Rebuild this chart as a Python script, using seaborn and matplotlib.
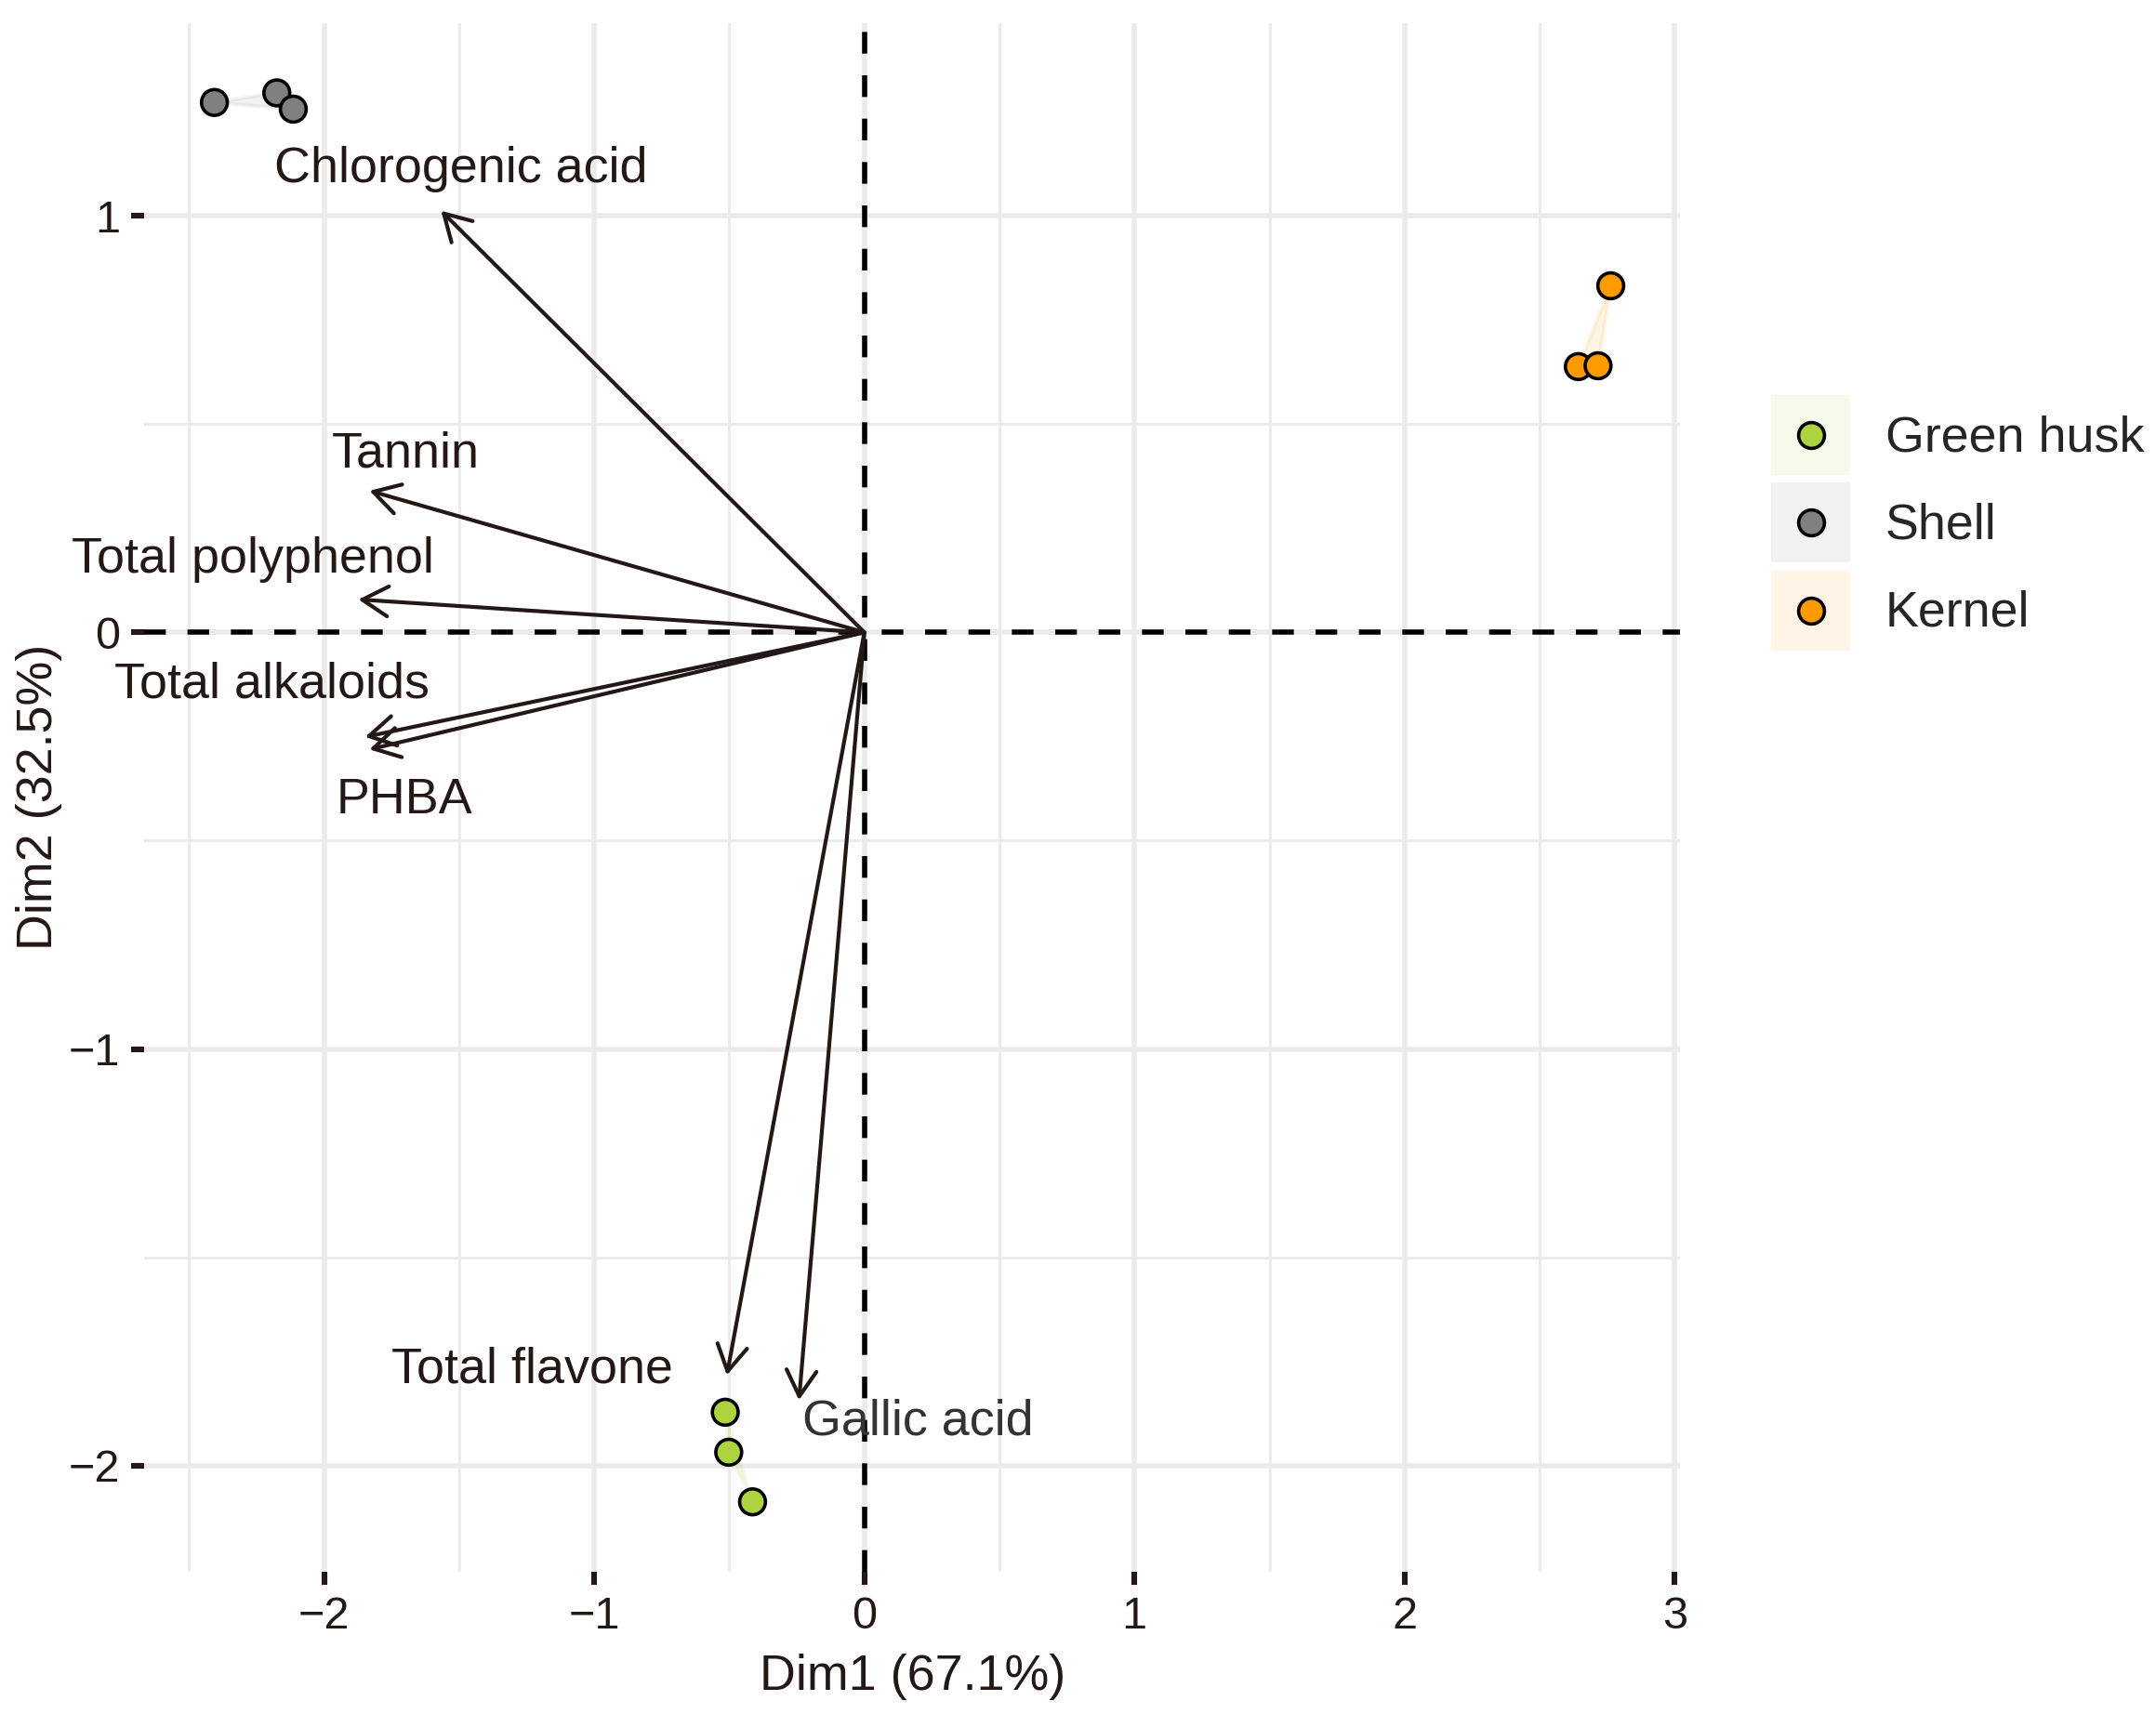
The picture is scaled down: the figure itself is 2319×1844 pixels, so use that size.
import pandas as pd
import seaborn as sns
import matplotlib.pyplot as plt
from matplotlib.lines import Line2D
from matplotlib.patches import Patch
from matplotlib.legend_handler import HandlerTuple, HandlerLine2D

# samples (PCA individuals)
groups = ['Green husk', 'Shell', 'Kernel']
sample_group = ['Green husk'] * 3 + ['Shell'] * 3 + ['Kernel'] * 3
dim1 = [-0.515, -0.502, -0.414, -2.406, -2.175, -2.114, 2.763, 2.643, 2.716]
dim2 = [-1.872, -1.968, -2.087, 1.272, 1.295, 1.256, 0.832, 0.638, 0.640]

# variables (arrow tips)
variables = ['Chlorogenic acid', 'Tannin', 'Total polyphenol', 'Total alkaloids',
             'PHBA', 'Total flavone', 'Gallic acid']
var_dim1 = [-1.567, -1.832, -1.873, -1.848, -1.832, -0.509, -0.242]
var_dim2 = [1.012, 0.340, 0.079, -0.251, -0.281, -1.783, -1.843]
# repelled label positions
lab_dim1 = [-1.495, -1.700, -2.264, -2.193, -1.703, -1.228, 0.198]
lab_dim2 = [1.111, 0.429, 0.175, -0.125, -0.403, -1.769, -1.894]

xlabel = 'Dim1 (67.1%)'
ylabel = 'Dim2 (32.5%)'

palette = {'Green husk': '#ADD33F', 'Shell': '#808080', 'Kernel': '#FF9A00'}
ink = '#231815'


class CenteredMarker(HandlerLine2D):
    # put the legend point in the middle of the key box
    def create_artists(self, legend, orig_handle, xdescent, ydescent, width, height,
                       fontsize, trans):
        return super().create_artists(legend, orig_handle, xdescent, ydescent, width,
                                      height - ydescent, fontsize, trans)


df = pd.DataFrame({'Dim1': dim1, 'Dim2': dim2, 'group': sample_group})

sns.set_theme(style='white')
plt.rcParams['font.family'] = ['Liberation Sans', 'DejaVu Sans']

fig = plt.figure(figsize=(2319 / 200, 1844 / 200), dpi=200)
ax = fig.add_axes([0.067, 0.0832, 0.7123, 0.9032])

ax.set_xlim(-2.665, 3.02)
ax.set_ylim(-2.254, 1.462)

# grid
ax.set_xticks([-2, -1, 0, 1, 2, 3])
ax.set_yticks([-2, -1, 0, 1])
ax.set_xticks([-2.5, -1.5, -0.5, 0.5, 1.5, 2.5], minor=True)
ax.set_yticks([-1.5, -0.5, 0.5], minor=True)
ax.set_xticklabels(['\u22122', '\u22121', '0', '1', '2', '3'])
ax.set_yticklabels(['\u22122', '\u22121', '0', '1'])
ax.grid(which='major', color='#EBEBEB', lw=2.0)
ax.grid(which='minor', color='#EBEBEB', lw=1.1)
ax.set_axisbelow(True)
for s in ax.spines.values():
    s.set_visible(False)
ax.tick_params(which='major', length=5, width=2.2, color=ink, pad=4.5,
               labelsize=17.5, labelcolor=ink, bottom=True, left=True)
ax.tick_params(which='minor', length=0)

# convex hulls
for g in groups:
    sub = df[df['group'] == g]
    ax.fill(sub['Dim1'], sub['Dim2'], facecolor=palette[g], edgecolor=palette[g],
            alpha=0.1, lw=1.5, zorder=1)

# reference lines
ax.axhline(0, color='black', lw=2.0, ls=(0, (4.2, 4.2)), zorder=2)
ax.axvline(0, color='black', lw=2.0, ls=(0, (4.2, 4.2)), zorder=2)

# variable arrows
for i, v in enumerate(variables):
    ax.annotate('', xy=(var_dim1[i], var_dim2[i]), xytext=(0, 0),
                arrowprops=dict(arrowstyle='->,head_length=1.0,head_width=0.58',
                                mutation_scale=10, lw=1.5, color=ink,
                                shrinkA=0, shrinkB=0), zorder=3)
    ax.text(lab_dim1[i], lab_dim2[i], v, ha='center', va='center', fontsize=19.4,
            color='#333333' if v == 'Gallic acid' else ink, zorder=4)

sns.scatterplot(data=df, x='Dim1', y='Dim2', hue='group', palette=palette,
                hue_order=groups, s=100, edgecolor='black', linewidth=1.3,
                legend=False, ax=ax, zorder=5)

ax.set_xlabel(xlabel, fontsize=19.4, color=ink, labelpad=6)
ax.set_ylabel(ylabel, fontsize=19.4, color=ink, labelpad=2.5)

# legend with shaded key backgrounds
handles = []
for g in groups:
    bg = Patch(facecolor=palette[g], alpha=0.1, edgecolor='none')
    pt = Line2D([], [], ls='', marker='o', markersize=10, markerfacecolor=palette[g],
                markeredgecolor='black', markeredgewidth=1.3)
    handles.append((bg, pt))
fig.legend(handles, groups,
           handler_map={tuple: HandlerTuple(ndivide=1, pad=0), Line2D: CenteredMarker()},
           loc='center left', bbox_to_anchor=(1905 / 2319, 0.695), frameon=False,
           borderpad=0, borderaxespad=0, fontsize=19.4, handlelength=1.58,
           handleheight=2.08, labelspacing=0.15, handletextpad=0.7)

fig.savefig('out.png', dpi=200)
